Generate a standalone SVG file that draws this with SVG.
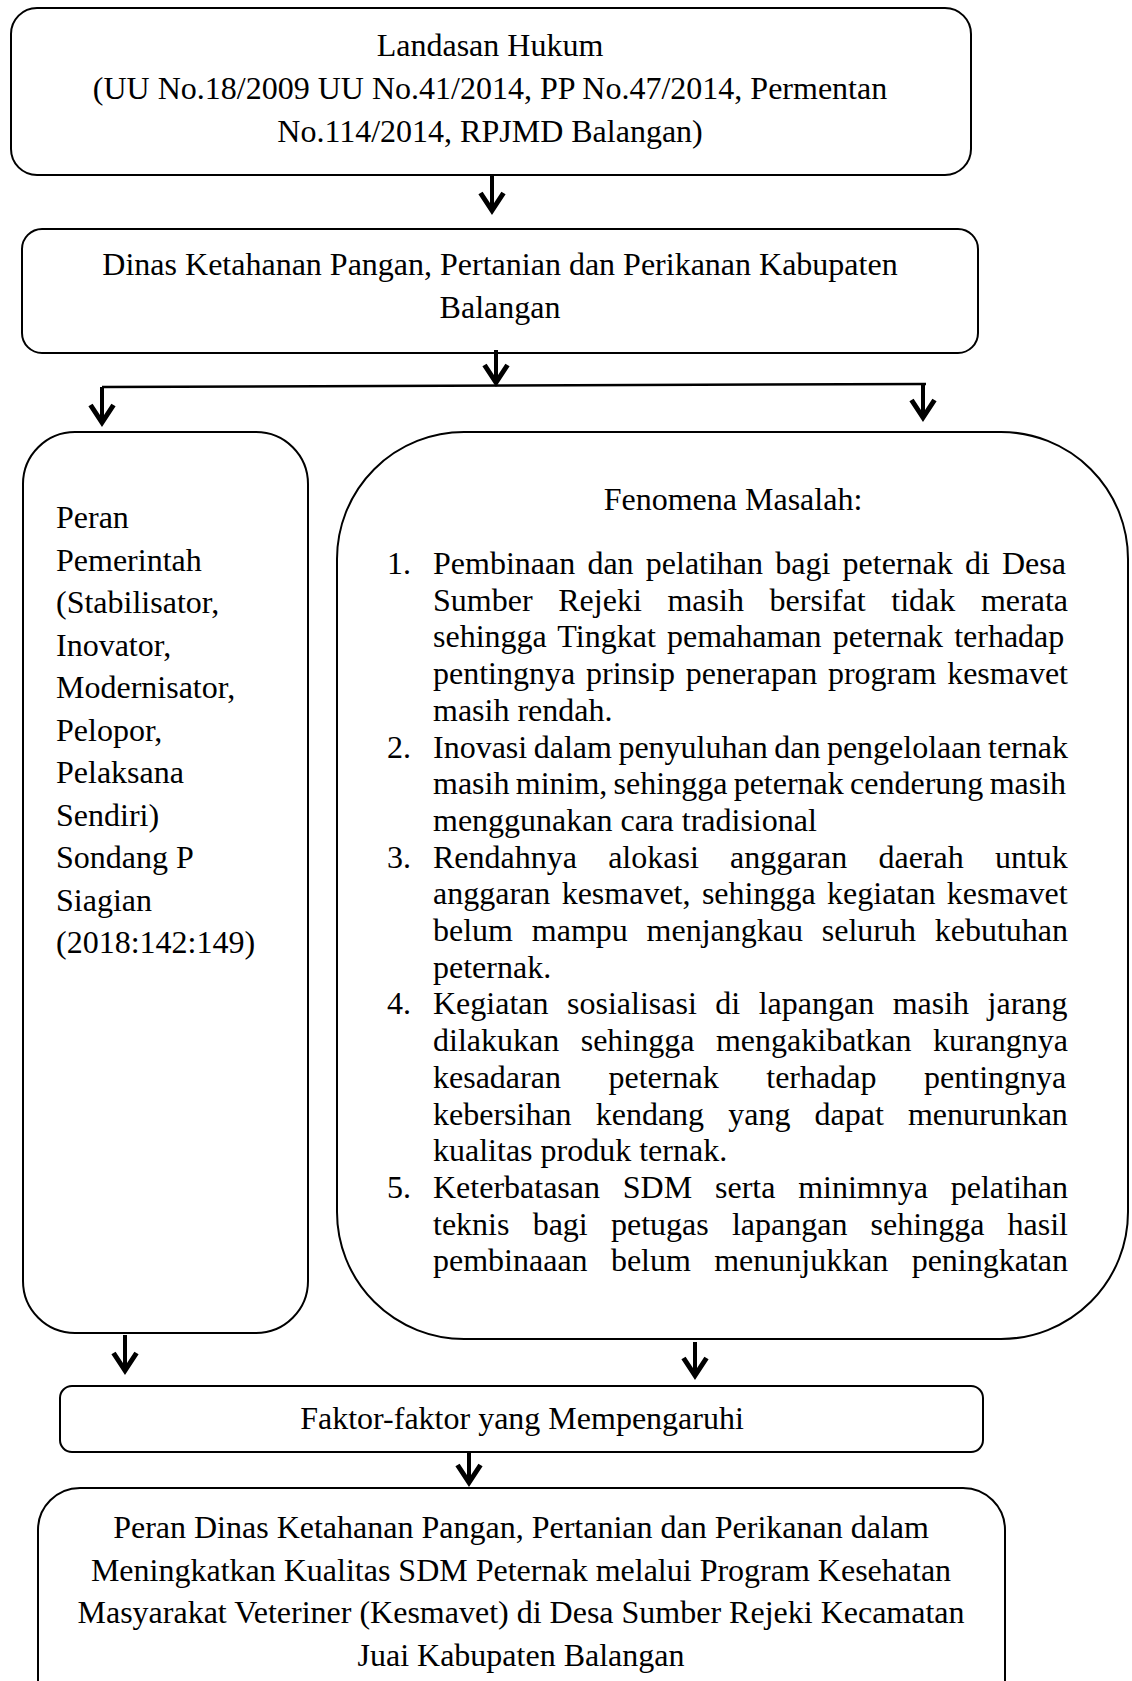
<svg xmlns="http://www.w3.org/2000/svg" width="1132" height="1681" viewBox="0 0 1132 1681">
<style>
.box{fill:#fff;stroke:#000;stroke-width:2}
text{font-family:"Liberation Serif","Times New Roman",serif;font-size:32px;fill:#000}
.c{text-anchor:middle}
.conn{fill:none;stroke:#000;stroke-width:4}
.hl{fill:none;stroke:#000;stroke-width:2.5}
</style>
<defs>
<marker id="ah" markerUnits="userSpaceOnUse" viewBox="-28 -16 32 32" refX="-4" refY="0" markerWidth="32" markerHeight="32" orient="auto">
<path d="M-22,-11.5 L-4.5,0 L-22,11.5" fill="none" stroke="#000" stroke-width="5" stroke-linejoin="miter"/>
</marker>
</defs>

<g id="node-landasan">
<rect class="box" x="11" y="8" width="960" height="167" rx="26"/>
<text class="c" x="490" y="56">Landasan Hukum</text>
<text class="c" x="490" y="99">(UU No.18/2009 UU No.41/2014, PP No.47/2014, Permentan</text>
<text class="c" x="490" y="142">No.114/2014, RPJMD Balangan)</text>
</g>

<g id="node-dinas">
<rect class="box" x="22" y="229" width="956" height="124" rx="20"/>
<text class="c" x="500" y="275">Dinas Ketahanan Pangan, Pertanian dan Perikanan Kabupaten</text>
<text class="c" x="500" y="318">Balangan</text>
</g>

<g id="node-peran">
<rect class="box" x="23" y="432" width="285" height="901" rx="52"/>
<text x="56" y="528">Peran</text>
<text x="56" y="570.5">Pemerintah</text>
<text x="56" y="613">(Stabilisator,</text>
<text x="56" y="655.5">Inovator,</text>
<text x="56" y="698">Modernisator,</text>
<text x="56" y="740.5">Pelopor,</text>
<text x="56" y="783">Pelaksana</text>
<text x="56" y="825.5">Sendiri)</text>
<text x="56" y="868">Sondang P</text>
<text x="56" y="910.5">Siagian</text>
<text x="56" y="953">(2018:142:149)</text>
</g>

<g id="node-fenomena">
<rect class="box" x="337" y="432" width="791" height="907" rx="127"/>
<text class="c" x="733" y="510">Fenomena Masalah:</text>
<text x="387" y="574">1.</text>
<text x="433" y="574" style="word-spacing:4.2px">Pembinaan dan pelatihan bagi peternak di Desa</text>
<text x="433" y="610.7" style="word-spacing:17.7px">Sumber Rejeki masih bersifat tidak merata</text>
<text x="433" y="647.4" style="word-spacing:3.2px">sehingga Tingkat pemahaman peternak terhadap</text>
<text x="433" y="684.1" style="word-spacing:2.8px">pentingnya prinsip penerapan program kesmavet</text>
<text x="433" y="720.8">masih rendah.</text>
<text x="387" y="757.5">2.</text>
<text x="433" y="757.5" style="word-spacing:-1.5px">Inovasi dalam penyuluhan dan pengelolaan ternak</text>
<text x="433" y="794.2" style="word-spacing:-1.7px">masih minim, sehingga peternak cenderung masih</text>
<text x="433" y="830.9">menggunakan cara tradisional</text>
<text x="387" y="867.6">3.</text>
<text x="433" y="867.6" style="word-spacing:23.2px">Rendahnya alokasi anggaran daerah untuk</text>
<text x="433" y="904.3" style="word-spacing:3.4px">anggaran kesmavet, sehingga kegiatan kesmavet</text>
<text x="433" y="941" style="word-spacing:10.8px">belum mampu menjangkau seluruh kebutuhan</text>
<text x="433" y="977.7">peternak.</text>
<text x="387" y="1014.4">4.</text>
<text x="433" y="1014.4" style="word-spacing:10.5px">Kegiatan sosialisasi di lapangan masih jarang</text>
<text x="433" y="1051.1" style="word-spacing:13.5px">dilakukan sehingga mengakibatkan kurangnya</text>
<text x="433" y="1087.8" style="word-spacing:39.6px">kesadaran peternak terhadap pentingnya</text>
<text x="433" y="1124.5" style="word-spacing:16.1px">kebersihan kendang yang dapat menurunkan</text>
<text x="433" y="1161.2">kualitas produk ternak.</text>
<text x="387" y="1197.9">5.</text>
<text x="433" y="1197.9" style="word-spacing:14.8px">Keterbatasan SDM serta minimnya pelatihan</text>
<text x="433" y="1234.6" style="word-spacing:15.2px">teknis bagi petugas lapangan sehingga hasil</text>
<text x="433" y="1271.3" style="word-spacing:15.3px">pembinaaan belum menunjukkan peningkatan</text>
</g>

<g id="node-faktor">
<rect class="box" x="60" y="1386" width="923" height="66" rx="12"/>
<text class="c" x="522" y="1429">Faktor-faktor yang Mempengaruhi</text>
</g>

<g id="node-peran-dinas">
<rect class="box" x="38" y="1488" width="967" height="260" rx="42"/>
<text class="c" x="521" y="1538">Peran Dinas Ketahanan Pangan, Pertanian dan Perikanan dalam</text>
<text class="c" x="521" y="1581">Meningkatkan Kualitas SDM Peternak melalui Program Kesehatan</text>
<text class="c" x="521" y="1623">Masyarakat Veteriner (Kesmavet) di Desa Sumber Rejeki Kecamatan</text>
<text class="c" x="521" y="1666">Juai Kabupaten Balangan</text>
</g>

<g id="connectors">
<path class="conn" d="M492,175 V211" marker-end="url(#ah)"/>
<path class="conn" d="M496,350 V383" marker-end="url(#ah)"/>
<path class="hl" d="M102,387 L926,384"/>
<path class="conn" d="M102,387 V423" marker-end="url(#ah)"/>
<path class="conn" d="M923,384 V418" marker-end="url(#ah)"/>
<path class="conn" d="M125,1335 V1371" marker-end="url(#ah)"/>
<path class="conn" d="M695,1342 V1376" marker-end="url(#ah)"/>
<path class="conn" d="M469,1452 V1483" marker-end="url(#ah)"/>
</g>
</svg>
